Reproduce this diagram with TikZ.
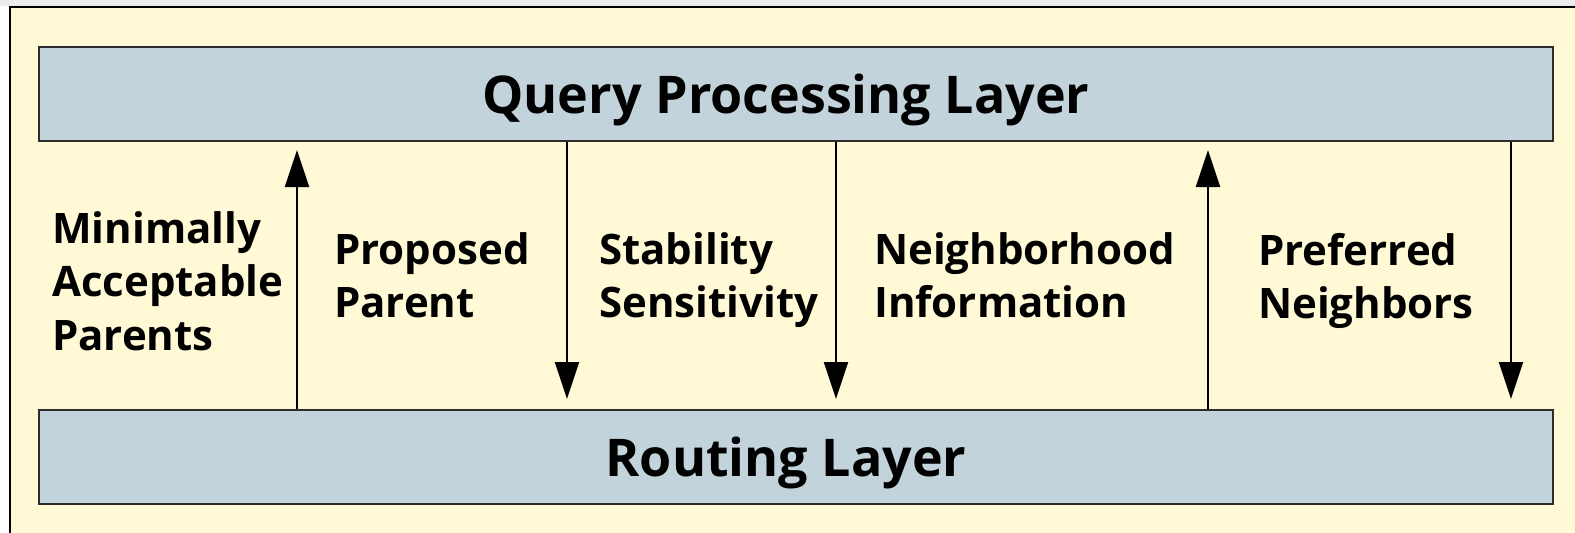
\documentclass[tikz,border=0pt]{standalone}
\usepackage{fontspec}
\setmainfont{Open Sans}[Ligatures={NoCommon}]
\usetikzlibrary{arrows.meta,calc}
\definecolor{bgyellow}{RGB}{255,249,214}
\definecolor{boxfill}{RGB}{195,211,219}
\definecolor{boxline}{RGB}{45,45,45}
\definecolor{topstrip}{RGB}{236,236,236}
\tikzset{
  layer/.style={draw=boxline, line width=2.5pt, fill=boxfill, minimum width=1514pt, minimum height=94pt, inner sep=0pt},
  title/.style={anchor=base, inner sep=0pt, font=\fontsize{52}{60}\selectfont\bfseries},
  lbl/.style={anchor=north west, align=left, inner sep=0pt, font=\fontsize{42}{53.5}\selectfont\bfseries},
  arr/.style={line width=2pt, -{Triangle[length=37pt,width=24pt]}},
}
\newcommand{\fl}{\rule{0pt}{40pt}}
\begin{document}
\begin{tikzpicture}[x=1pt,y=-1pt]
\useasboundingbox (0,0) rectangle (1575,533);
\fill[white] (0,0) rectangle (1575,533);
\fill[topstrip] (0,0) rectangle (1575,6);
\fill[bgyellow] (10,7) rectangle (1575,533);
\draw[black, line width=2.5pt] (10,533) -- (10,7) -- (1575,7);
\node[layer] (qpl) at (796,94) {};
\node[layer] (rl) at (796,457) {};
\node[title] (qplt) at (786,113) {Query Processing Layer};
\node[title] (rlt) at (786,476) {Routing Layer};
% arrow endpoints
\coordinate (u1) at (297,150);
\coordinate (d1) at (567,399);
\coordinate (d2) at (836,399);
\coordinate (u2) at (1208,150);
\coordinate (d3) at (1511,399);
\draw[arr] (rl.north -| u1) -- (u1);
\draw[arr] (qpl.south -| d1) -- (d1);
\draw[arr] (qpl.south -| d2) -- (d2);
\draw[arr] (rl.north -| u2) -- (u2);
\draw[arr] (qpl.south -| d3) -- (d3);
\node[lbl] (l1) at (52,203) {\fl Minimally\\Acceptable\\Parents};
\node[lbl] (l2) at (334,224) {\fl Proposed\\Parent};
\node[lbl] (l3) at (599,224) {\fl Stability\\Sensitivity};
\node[lbl] (l4) at (874,224) {\fl Neighborhood\\Information};
\node[lbl] (l5) at (1258,225) {\fl Preferred\\Neighbors};
\end{tikzpicture}
\end{document}
